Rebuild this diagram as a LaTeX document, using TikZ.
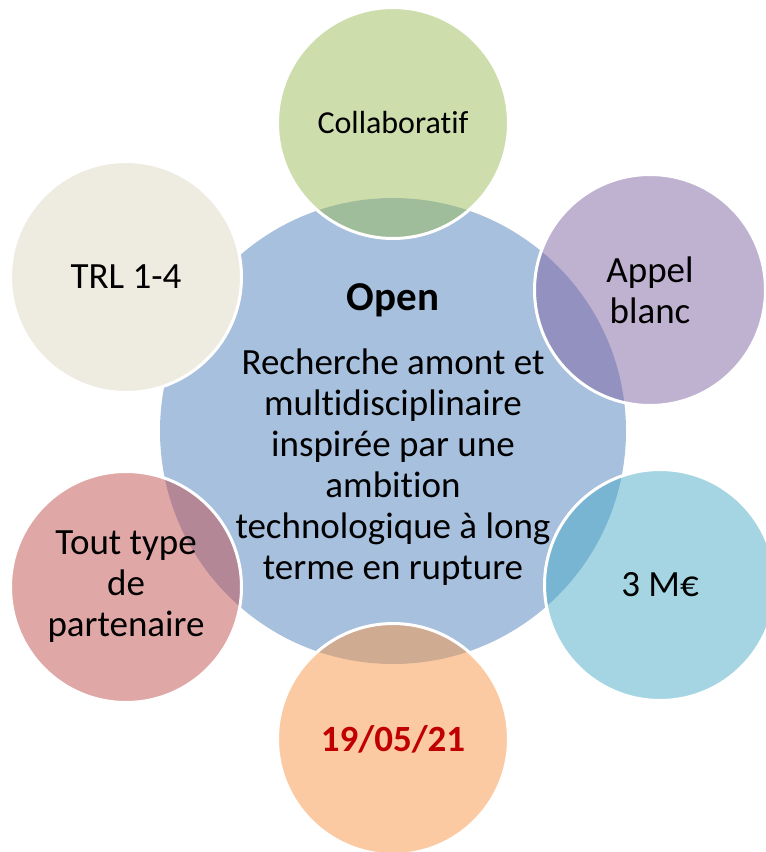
\documentclass[tikz,border=0pt]{standalone}
\usepackage{fontspec}
\setmainfont[Ligatures=NoCommon]{Carlito}
\definecolor{accblue}{HTML}{4F81BD}
\definecolor{accgreen}{HTML}{9BBB59}
\definecolor{accpurple}{HTML}{8064A2}
\definecolor{accaqua}{HTML}{4BACC6}
\definecolor{accorange}{HTML}{F79646}
\definecolor{accred}{HTML}{C0504D}
\definecolor{accbeige}{HTML}{EEECE1}
\definecolor{datered}{HTML}{C00000}
\begin{document}
\begin{tikzpicture}[x=1pt,y=-1pt]
    \tikzstyle{hub}=[circle,fill=accblue,fill opacity=0.5,minimum size=466pt,inner sep=0pt]
    \tikzstyle{petal}=[circle,draw=white,line width=3pt,fill opacity=0.5,text opacity=1,minimum size=231pt,inner sep=0pt,align=center,font=\fontsize{37}{41}\selectfont]
    \tikzstyle{label}=[align=center,inner sep=0pt,font=\fontsize{37}{41}\selectfont]
    \useasboundingbox (0,0) rectangle (766,852);
    \node[hub] (open) at (393,431) {};
    \node[label,font=\fontsize{41}{41}\selectfont\bfseries] (opentitle) at (393,300) {Open};
    \node[label] (openbody) at (393,467) {Recherche amont et\\multidisciplinaire\\inspirée par une\\ambition\\technologique à long\\terme en rupture};
    \node[petal,fill=accgreen,font=\fontsize{32}{39}\selectfont] (collab) at (393,123) {Collaboratif};
    \node[petal,fill=accpurple] (appel) at (650,290) {Appel\\blanc};
    \node[petal,fill=accaqua] (budget) at (660,585) {3 M€};
    \node[petal,fill=accorange,text=datered,font=\fontsize{37}{41}\selectfont\bfseries] (date) at (393,739) {19/05/21};
    \node[petal,fill=accred] (partner) at (126,587) {Tout type\\de\\partenaire};
    \node[petal,fill=accbeige,fill opacity=1] (trl) at (126,277) {TRL 1-4};
\end{tikzpicture}
\end{document}
